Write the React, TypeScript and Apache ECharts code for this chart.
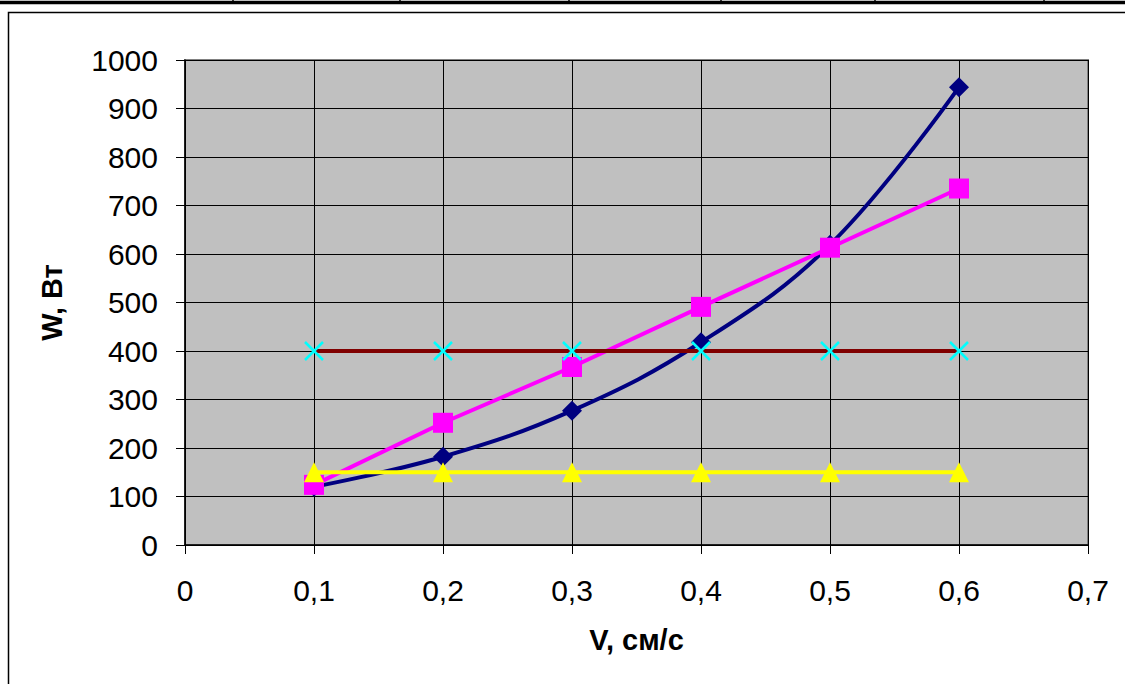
import React, { useEffect, useRef } from "react";
import * as echarts from "echarts";

const xValues = [0.1, 0.2, 0.3, 0.4, 0.5, 0.6];
const curveW = [120, 182, 277, 418, 619, 944];
const linearW = [124, 252, 367, 491, 613, 735];
const levelHigh = [400, 400, 400, 400, 400, 400];
const levelLow = [150, 150, 150, 150, 150, 150];

const xAxisName = "V, см/с";
const yAxisName = "W, Вт";
const topTableDividers = [233, 400, 569, 721, 875, 1044];

const pairs = (ys: number[]) => xValues.map((x, i) => [x, ys[i]]);

const FONT = "'Liberation Sans', Arial, sans-serif";

export default function App() {
  const ref = useRef<HTMLDivElement>(null);

  useEffect(() => {
    if (!ref.current) return;
    const chart = echarts.init(ref.current, undefined, { renderer: "svg" });

    const graphics: any[] = [
      {
        type: "line",
        shape: { x1: 0, y1: 2.5, x2: 1125, y2: 2.5 },
        style: { stroke: "#000", lineWidth: 3.5 },
        silent: true,
      },
      ...topTableDividers.map((x) => ({
        type: "line",
        shape: { x1: x, y1: 0, x2: x, y2: 4 },
        style: { stroke: "#000", lineWidth: 1.5 },
        silent: true,
      })),
      {
        type: "rect",
        shape: { x: 8.5, y: 12.5, width: 1130, height: 690 },
        style: { fill: "none", stroke: "#000", lineWidth: 1.5 },
        silent: true,
        z: -10,
      },
    ];

    chart.setOption({
      animation: false,
      backgroundColor: "#fff",
      textStyle: { fontFamily: FONT },
      graphic: graphics,
      grid: {
        left: 185,
        top: 60,
        right: 37,
        bottom: 139,
        show: true,
        backgroundColor: "#C0C0C0",
        borderColor: "#808080",
        borderWidth: 2,
        containLabel: false,
        outerBoundsMode: "none",
      },
      xAxis: {
        type: "value",
        min: 0,
        max: 0.7,
        interval: 0.1,
        name: xAxisName,
        nameLocation: "middle",
        nameGap: 80,
        nameTextStyle: { fontSize: 29, fontWeight: "bold", color: "#000", fontFamily: FONT },
        axisLine: { show: true, onZero: false, lineStyle: { color: "#000", width: 1.5 } },
        axisTick: { show: true, inside: false, length: 9, lineStyle: { color: "#000", width: 1 } },
        axisLabel: {
          fontSize: 30,
          color: "#000",
          fontFamily: FONT,
          margin: 30,
          formatter: (v: number) => (v === 0 ? "0" : v.toFixed(1).replace(".", ",")),
        },
        splitLine: { show: true, lineStyle: { color: "#000", width: 1 } },
      },
      yAxis: {
        type: "value",
        min: 0,
        max: 1000,
        interval: 100,
        name: yAxisName,
        nameLocation: "middle",
        nameGap: 119,
        nameTextStyle: { fontSize: 29, fontWeight: "bold", color: "#000", fontFamily: FONT },
        axisLine: { show: true, onZero: false, lineStyle: { color: "#000", width: 1.5 } },
        axisTick: { show: true, inside: false, length: 9, lineStyle: { color: "#000", width: 1 } },
        axisLabel: {
          fontSize: 30,
          color: "#000",
          fontFamily: FONT,
          margin: 27,
          formatter: (v: number) => String(v),
        },
        splitLine: { show: true, lineStyle: { color: "#000", width: 1 } },
      },
      series: [
        {
          name: "curve",
          type: "line",
          data: pairs(curveW),
          smooth: 0.4,
          symbol: "diamond",
          symbolSize: 20,
          lineStyle: { color: "#000080", width: 4 },
          itemStyle: { color: "#000080" },
          z: 2,
        },
        {
          name: "linear",
          type: "line",
          data: pairs(linearW),
          symbol: "rect",
          symbolSize: 20,
          lineStyle: { color: "#FF00FF", width: 4 },
          itemStyle: { color: "#FF00FF" },
          z: 3,
        },
        {
          name: "high",
          type: "line",
          data: pairs(levelHigh),
          symbol: "path://M0,0L10,10M10,0L0,10",
          symbolSize: 18,
          lineStyle: { color: "#800000", width: 4 },
          itemStyle: { color: "#00FFFF", borderColor: "#00FFFF", borderWidth: 2.5 },
          z: 4,
        },
        {
          name: "low",
          type: "line",
          data: pairs(levelLow),
          symbol: "triangle",
          symbolSize: 20,
          lineStyle: { color: "#FFFF00", width: 4 },
          itemStyle: { color: "#FFFF00" },
          z: 5,
        },
      ],
    });

    return () => chart.dispose();
  }, []);

  return (
    <div
      ref={ref}
      style={{ position: "absolute", left: 0, top: 0, width: 1125, height: 684 }}
    />
  );
}
